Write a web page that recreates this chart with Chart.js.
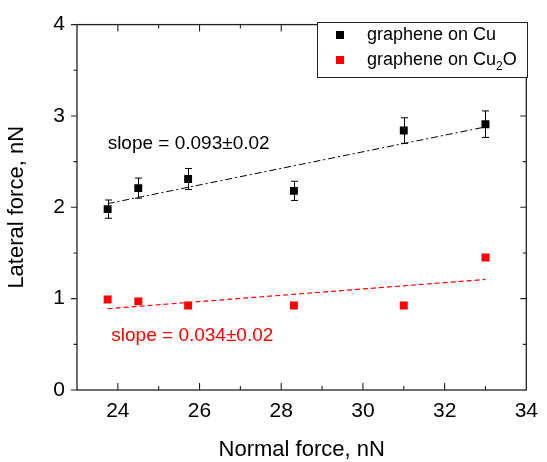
<!DOCTYPE html>
<html>
<head>
<meta charset="utf-8">
<script src="https://cdn.jsdelivr.net/npm/chart.js@4.4.1/dist/chart.umd.min.js"></script>
<style>
  body { margin: 0; background: #fff; }
  #wrap { width: 547px; height: 462px; position: relative; }
</style>
</head>
<body>
<div id="wrap"><canvas id="forceChart"></canvas></div>
<script>
// データ
var normalForce = [23.75, 24.5, 25.72, 28.31, 31.0, 33.0];
var lateralCu = [1.98, 2.21, 2.31, 2.18, 2.84, 2.91];
var errorCu = [0.10, 0.11, 0.115, 0.105, 0.14, 0.145];
var lateralCu2O = [0.99, 0.97, 0.925, 0.925, 0.925, 1.45];

// フィット直線の両端
var fitX = [23.75, 33.0];
var fitCu = [2.04, 2.88];
var fitCu2O = [0.89, 1.21];

// ラベル
var seriesLabels = ["graphene on Cu", "graphene on Cu\u2082O"];
var slopeLabels = ["slope = 0.093\u00b10.02", "slope = 0.034\u00b10.02"];
var slopeAt = [[23.75, 2.70], [23.84, 0.59]];
var xTicks = [24, 26, 28, 30, 32, 34];
var yTicks = [0, 1, 2, 3, 4];

var FONT = 'Arial, "Liberation Sans", sans-serif';
Chart.defaults.font.family = FONT;
Chart.defaults.color = '#000';

function points(xs, ys) {
  return xs.map(function (x, i) { return { x: x, y: ys[i] }; });
}

// エラーバー
var errorBars = {
  id: 'errorBars',
  beforeDatasetsDraw: function (chart) {
    var ctx = chart.ctx, xs = chart.scales.x, ys = chart.scales.y;
    ctx.save();
    ctx.strokeStyle = '#000';
    ctx.lineWidth = 1;
    normalForce.forEach(function (x, i) {
      var px = Math.round(xs.getPixelForValue(x)) + 0.5;
      var top = ys.getPixelForValue(lateralCu[i] + errorCu[i]);
      var bot = ys.getPixelForValue(lateralCu[i] - errorCu[i]);
      ctx.beginPath();
      ctx.moveTo(px, top); ctx.lineTo(px, bot);
      ctx.moveTo(px - 3.5, top); ctx.lineTo(px + 3.5, top);
      ctx.moveTo(px - 3.5, bot); ctx.lineTo(px + 3.5, bot);
      ctx.stroke();
    });
    ctx.restore();
  }
};

// 枠線・目盛り・凡例・注記
var frame = {
  id: 'frame',
  afterDraw: function (chart) {
    var ctx = chart.ctx, a = chart.chartArea;
    var xs = chart.scales.x, ys = chart.scales.y;
    ctx.save();
    ctx.strokeStyle = '#222';
    ctx.lineWidth = 1.3;
    ctx.strokeRect(a.left, a.top, a.right - a.left, a.bottom - a.top);

    ctx.lineWidth = 1.1;
    ctx.beginPath();
    // x目盛り (内向き、上下)
    for (var v = 24; v <= 33; v++) {
      var px = xs.getPixelForValue(v);
      var len = (v % 2 === 0) ? 7 : 4;
      ctx.moveTo(px, a.bottom); ctx.lineTo(px, a.bottom - len);
      ctx.moveTo(px, a.top); ctx.lineTo(px, a.top + len);
    }
    // y目盛り (左は外向き、右は内向き)
    for (var k = 0; k <= 8; k++) {
      var val = k / 2;
      var py = ys.getPixelForValue(val);
      var l2 = (k % 2 === 0) ? 6 : 3.5;
      ctx.moveTo(a.left, py); ctx.lineTo(a.left - l2, py);
      if (k > 0 && k < 8) { ctx.moveTo(a.right, py); ctx.lineTo(a.right - l2, py); }
    }
    ctx.stroke();

    // 凡例
    var lx = 317, ly = 22, lw = 210, lh = 55;
    ctx.fillStyle = '#fff';
    ctx.fillRect(lx, ly, lw, lh);
    ctx.strokeStyle = '#222';
    ctx.lineWidth = 1;
    ctx.strokeRect(lx + 0.5, ly + 0.5, lw, lh);
    var colors = ['#000', '#ff0000'];
    ctx.font = '18px ' + FONT;
    ctx.textBaseline = 'middle';
    seriesLabels.forEach(function (label, i) {
      var cy = ly + 13 + i * 25;
      ctx.fillStyle = colors[i];
      ctx.fillRect(336, cy - 4, 8, 8);
      ctx.fillStyle = '#000';
      var parts = label.split('\u2082');
      var tx = 367;
      ctx.font = '18px ' + FONT;
      ctx.fillText(parts[0], tx, cy);
      if (parts.length > 1) {
        tx += ctx.measureText(parts[0]).width;
        ctx.font = '12px ' + FONT;
        ctx.fillText('2', tx, cy + 7);
        tx += ctx.measureText('2').width;
        ctx.font = '18px ' + FONT;
        ctx.fillText(parts[1], tx, cy);
      }
    });

    // 傾きの注記
    ctx.font = '19px ' + FONT;
    ctx.textAlign = 'left';
    slopeLabels.forEach(function (t, i) {
      ctx.fillStyle = colors[i];
      ctx.fillText(t, xs.getPixelForValue(slopeAt[i][0]), ys.getPixelForValue(slopeAt[i][1]));
    });
    ctx.restore();
  }
};

var ctx1 = document.getElementById('forceChart');
var chart1 = new Chart(ctx1, {
  type: 'scatter',
  data: {
    datasets: [
      {
        type: 'line',
        data: points(fitX, fitCu),
        borderColor: '#000',
        borderWidth: 1,
        borderDash: [7, 3, 2, 3],
        pointRadius: 0,
        fill: false
      },
      {
        type: 'line',
        data: points(fitX, fitCu2O),
        borderColor: '#ff0000',
        borderWidth: 1.2,
        borderDash: [5, 3],
        pointRadius: 0,
        fill: false
      },
      {
        label: seriesLabels[0],
        data: points(normalForce, lateralCu),
        pointStyle: 'rect',
        pointRadius: 5.6,
        backgroundColor: '#000',
        borderColor: '#000',
        borderWidth: 0
      },
      {
        label: seriesLabels[1],
        data: points(normalForce, lateralCu2O),
        pointStyle: 'rect',
        pointRadius: 5.6,
        backgroundColor: '#ff0000',
        borderColor: '#ff0000',
        borderWidth: 0
      }
    ]
  },
  options: {
    responsive: true,
    maintainAspectRatio: false,
    animation: false,
    layout: { padding: { top: 19, right: 15, left: 0, bottom: 0 }, autoPadding: false },
    plugins: { legend: { display: false }, tooltip: { enabled: false } },
    scales: {
      x: {
        type: 'linear',
        min: 23,
        max: 34,
        grid: { display: false, drawTicks: false },
        border: { display: false },
        ticks: {
          stepSize: 1,
          autoSkip: false,
          maxRotation: 0,
          padding: 9,
          font: { size: 21 },
          color: '#000',
          callback: function (v) { return xTicks.indexOf(v) >= 0 ? v : ''; }
        },
        title: {
          display: true,
          text: 'Normal force, nN',
          font: { size: 22, lineHeight: 1.1 },
          color: '#000',
          padding: { top: 0, bottom: 0 }
        },
        afterFit: function (s) { s.height = 72; }
      },
      y: {
        min: 0,
        max: 4,
        grid: { display: false, drawTicks: false },
        border: { display: false },
        ticks: {
          stepSize: 0.5,
          autoSkip: false,
          padding: 12,
          font: { size: 21 },
          color: '#000',
          callback: function (v) { return yTicks.indexOf(v) >= 0 ? v : ''; }
        },
        title: {
          display: true,
          text: 'Lateral force, nN',
          font: { size: 22, lineHeight: 1.1 },
          color: '#000',
          padding: { top: 5, bottom: 0 }
        },
        afterFit: function (s) { s.width = 77; }
      }
    }
  },
  plugins: [errorBars, frame]
});
</script>
</body>
</html>
